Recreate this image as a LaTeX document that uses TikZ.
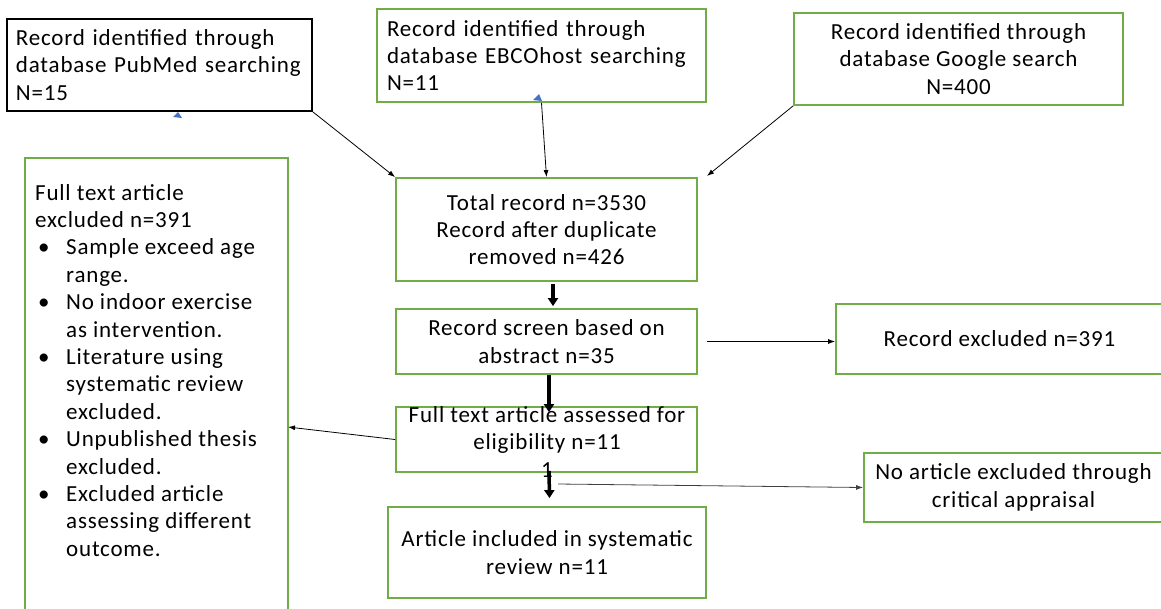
\documentclass[tikz,border=0pt]{standalone}
\usepackage{fontspec}
\setmainfont{Carlito}[LetterSpace=3.5]
\usetikzlibrary{arrows.meta,calc}
\definecolor{boxgreen}{RGB}{112,173,71}
\definecolor{triblue}{RGB}{68,114,196}
\begin{document}
\begin{tikzpicture}[x=1pt,y=-1pt,
  font=\fontsize{23}{27.4}\selectfont,
  gbox/.style={draw=boxgreen,line width=1.8pt,inner sep=0pt,align=center},
  bbox/.style={draw=black,line width=1.8pt,inner sep=0pt},
  thinarrow/.style={draw=black,line width=0.8pt,-{Latex[length=7pt,width=5pt]}},
  thickarrow/.style={draw=black,line width=3.5pt,-{Triangle[length=8pt,width=10pt]}},
  plaintext/.style={inner sep=0pt}]
\useasboundingbox (0,0) rectangle (1161,608);
\fill[white] (0,0) rectangle (1161,608);

% source boxes
\node[bbox,minimum width=305,minimum height=92,text width=287,align=left] (pub) at (159.5,65)
  {Record identified through\\database PubMed searching\\N=15};
\node[gbox,minimum width=329,minimum height=93,text width=309,align=left] (ebc) at (541.5,55.5)
  {Record identified through\\database EBCOhost searching\\N=11};
\node[gbox,minimum width=329,minimum height=92] (goo) at (958.5,59)
  {Record identified through\\database Google search\\N=400};

% main column
\node[gbox,minimum width=301,minimum height=103] (tot) at (546.5,229.5)
  {Total record n=3530\\Record after duplicate\\removed n=426};
\node[gbox,minimum width=301,minimum height=65] (scr) at (546.5,341.5)
  {Record screen based on\\abstract n=35};
\node[gbox,minimum width=301,minimum height=65] (ful) at (546.5,439.5) {};
\node[plaintext,align=center] (fultext) at (547,442)
  {Full text article assessed for\\eligibility n=11\\1};
\node[gbox,minimum width=318,minimum height=91] (art) at (547,552.5)
  {Article included in systematic\\review n=11};

% side boxes
\node[gbox,minimum width=327,minimum height=70] (rex) at (999.5,339) {Record excluded n=391};
\node[gbox,minimum width=299,minimum height=69] (nae) at (1013.5,487.5)
  {No article excluded through\\critical appraisal};
\node[gbox,minimum width=263,minimum height=480,anchor=north west] (lft) at (24,157) {};
\node[plaintext,anchor=north west,align=left] (lfttext) at (35,184)
  {Full text article\\
   excluded n=391\\
   \makebox[31pt][l]{\hspace{3pt}•}Sample exceed age\\
   \hspace*{31pt}range.\\
   \makebox[31pt][l]{\hspace{3pt}•}No indoor exercise\\
   \hspace*{31pt}as intervention.\\
   \makebox[31pt][l]{\hspace{3pt}•}Literature using\\
   \hspace*{31pt}systematic review\\
   \hspace*{31pt}excluded.\\
   \makebox[31pt][l]{\hspace{3pt}•}Unpublished thesis\\
   \hspace*{31pt}excluded.\\
   \makebox[31pt][l]{\hspace{3pt}•}Excluded article\\
   \hspace*{31pt}assessing different\\
   \hspace*{31pt}outcome.};

% connectors
\coordinate (gooend) at (707,176);
\coordinate (lftin) at (288,427);
\coordinate (naestart) at (558,484);
\draw[thinarrow] (pub.south east) -- (tot.north west);
\draw[thinarrow] (ebc.south) -- (tot.north);
\draw[thinarrow] (goo.south west) -- (gooend);
\draw[thickarrow] ([xshift=6.5pt,yshift=-2pt]tot.south) -- ([xshift=6.5pt,yshift=2pt]scr.north);
\draw[thickarrow] ([xshift=2.5pt]scr.south) -- ([xshift=2.5pt,yshift=-6pt]ful.north);
\draw[thickarrow] ([xshift=2.5pt,yshift=2pt]ful.south) -- ([xshift=2.5pt,yshift=8pt]art.north);
\draw[thinarrow] ([xshift=9pt]scr.east) -- (scr.east -| rex.west);
\draw[thinarrow] (ful.west) -- (lftin);
\draw[thinarrow,draw=black!75] (naestart) -- (nae.west);

% stray blue marks
\fill[triblue] (173,117) -- (178,112) -- (182,118) -- cycle;
\fill[triblue] (533,100) -- (539,94) -- (542,101) -- cycle;
\end{tikzpicture}
\end{document}
